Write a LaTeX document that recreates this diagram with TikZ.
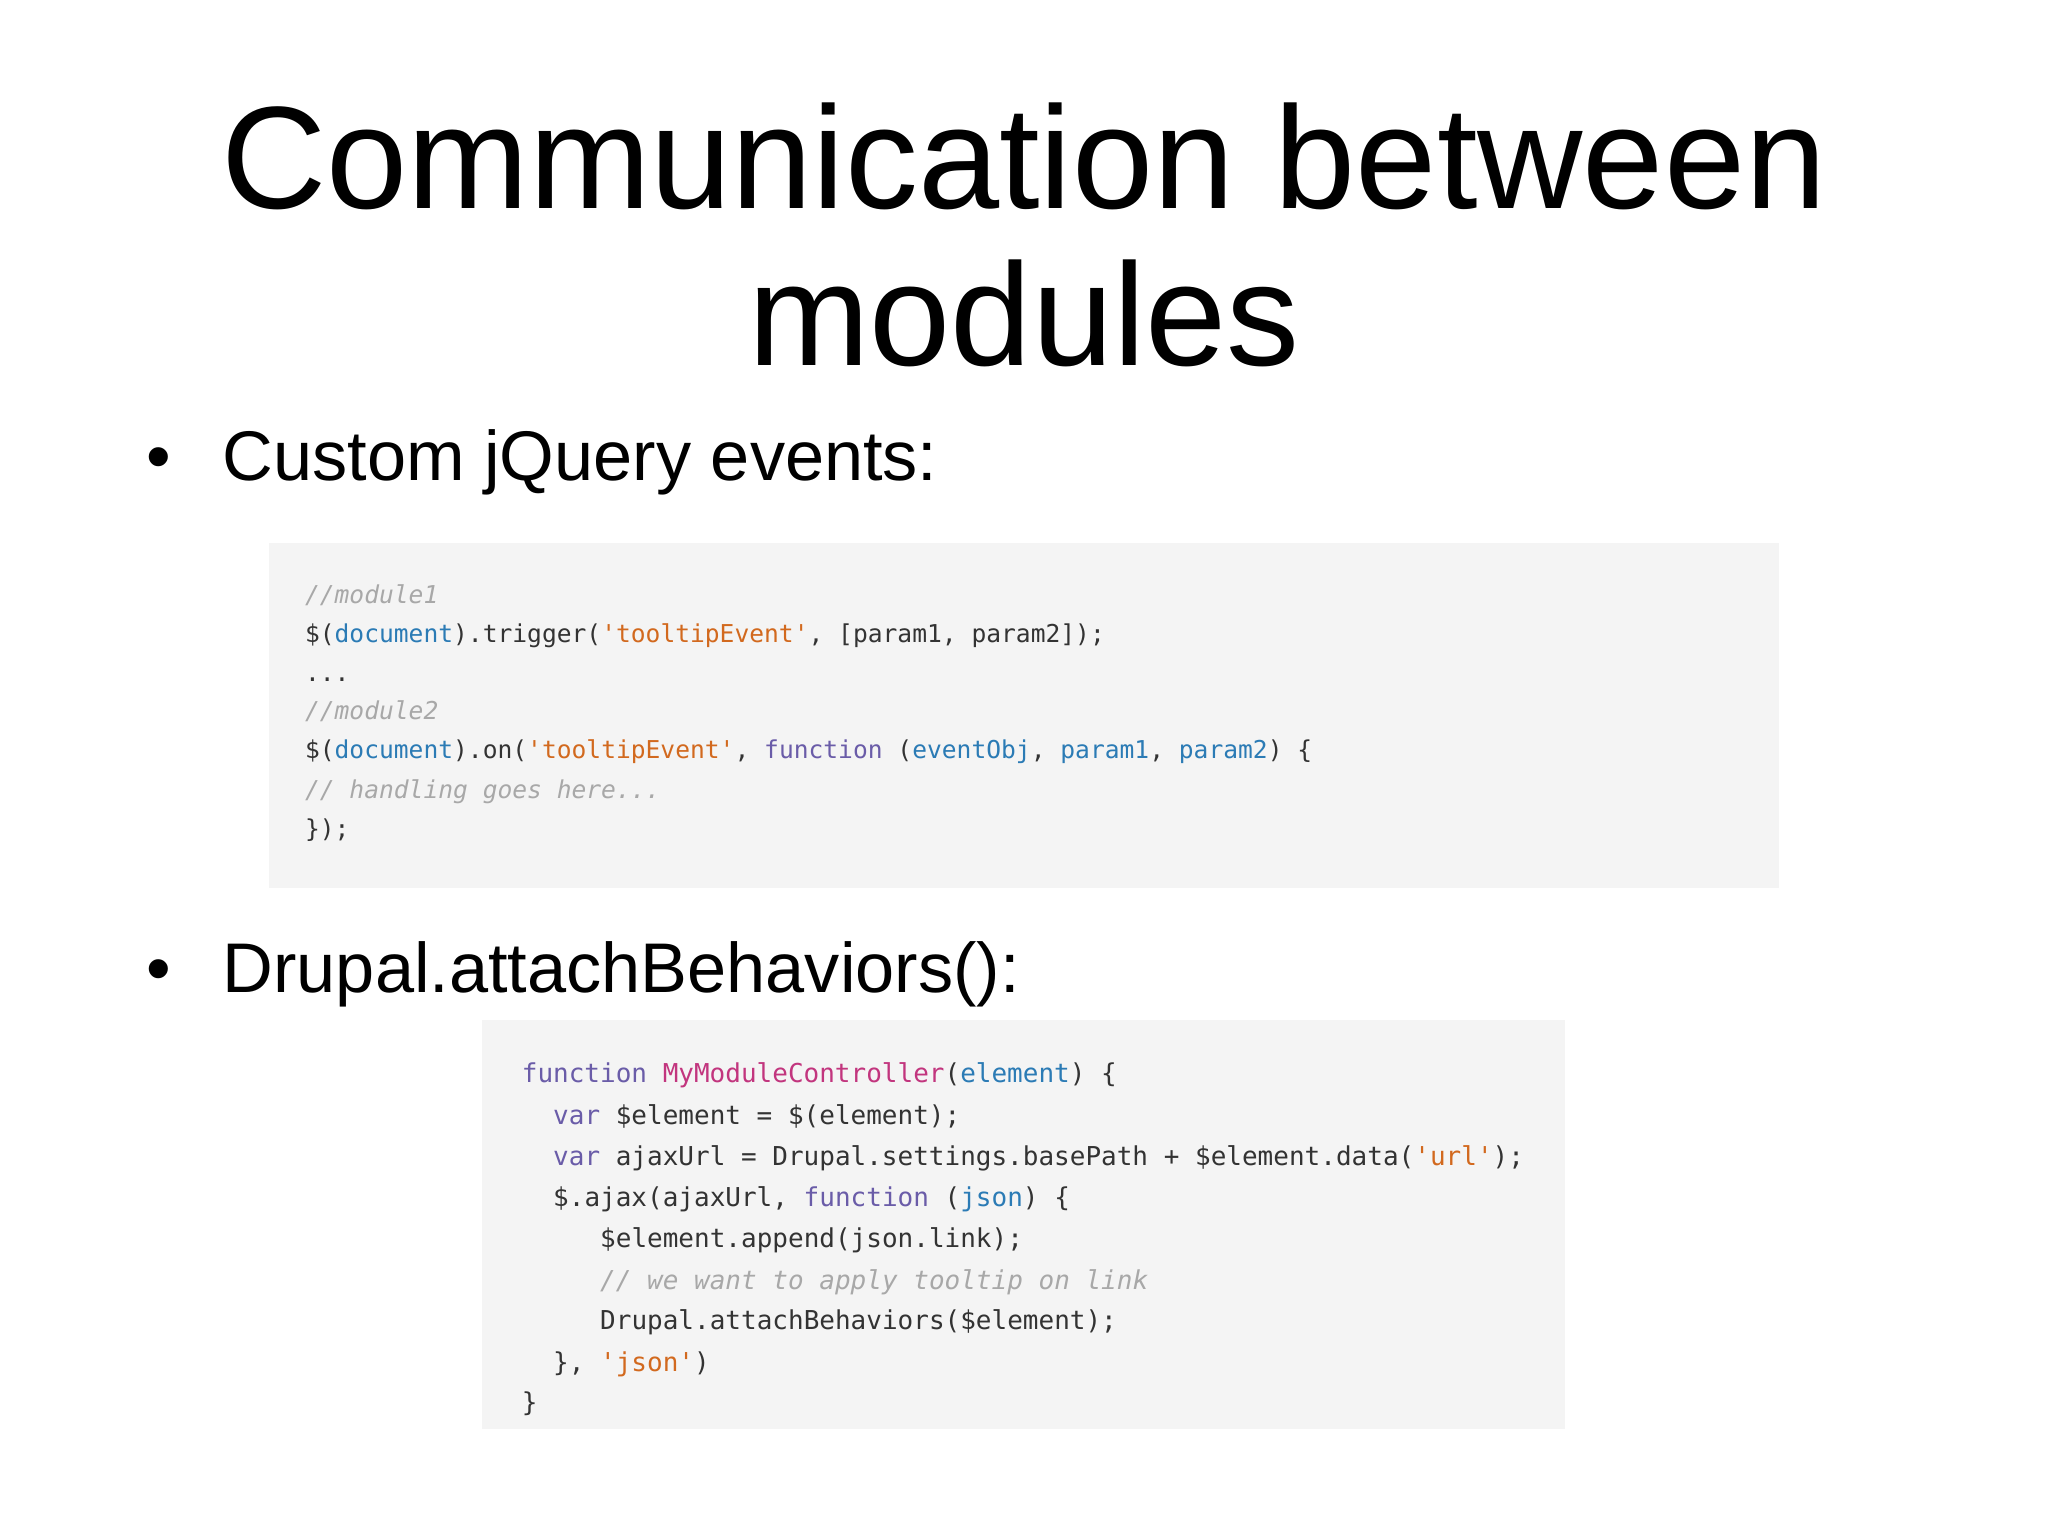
\documentclass[tikz,border=0pt]{standalone}
\usepackage{fontspec}
\setmainfont{Liberation Sans}
\setmonofont{DejaVu Sans Mono}
\definecolor{cbg}{HTML}{F4F4F4}
\definecolor{ctx}{HTML}{333333}
\definecolor{ckw}{HTML}{6A5CA8}
\definecolor{cid}{HTML}{2B7BB5}
\definecolor{cst}{HTML}{D2691E}
\definecolor{cfn}{HTML}{C2357E}
\definecolor{ccm}{HTML}{A8A8A8}
\newcommand{\K}[1]{\textcolor{ckw}{#1}}
\newcommand{\I}[1]{\textcolor{cid}{#1}}
\newcommand{\Sq}[1]{\textcolor{cst}{#1}}
\newcommand{\Cm}[1]{\textcolor{ccm}{\itshape #1}}
\begin{document}
\begin{tikzpicture}[x=0.01306cm,y=-0.01306cm,
  code/.style={anchor=base west,inner sep=0pt,text=ctx,font=\ttfamily\fontsize{7}{8}\selectfont},
  codeb/.style={code,font=\ttfamily\fontsize{7.4}{8}\selectfont},
  title/.style={font=\fontsize{41.5}{50}\selectfont,anchor=base,inner sep=0pt},
  bul/.style={font=\fontsize{20}{24}\selectfont,anchor=base west,inner sep=0pt}]
\useasboundingbox[fill=white] (0,0) rectangle (1568,1176);
\node[title] (t1) at (784,160) {Communication between};
\node[title] (t2) at (784,280) {modules};
\node[bul] (b1d) at (112,368) {•};
\node[bul] (b1) at (170,368) {Custom jQuery events:};
\node[bul] (b2d) at (112,760) {•};
\node[bul] (b2) at (170,760) {Drupal.attachBehaviors():};
\fill[cbg] (206,416) rectangle (1362,680);
\node[code] (a1) at (233,462) {\Cm{//module1}};
\node[code] (a2) at (233,492) {\$(\I{document}).trigger(\Sq{'tooltipEvent'}, [param1, param2]);};
\node[code] (a3) at (233,522) {...};
\node[code] (a4) at (233,551) {\Cm{//module2}};
\node[code] (a5) at (233,581) {\$(\I{document}).on(\Sq{'tooltipEvent'}, \K{function} (\I{eventObj}, \I{param1}, \I{param2}) \{};
\node[code] (a6) at (233,611) {\Cm{// handling goes here...}};
\node[code] (a7) at (233,641) {\});};
\fill[cbg] (369,781) rectangle (1198,1094);
\node[codeb] (c1) at (399,829) {\K{function} \textcolor{cfn}{MyModuleController}(\I{element}) \{};
\node[codeb] (c2) at (423,861) {\K{var} \$element = \$(element);};
\node[codeb] (c3) at (423,892) {\K{var} ajaxUrl = Drupal.settings.basePath + \$element.data(\Sq{'url'});};
\node[codeb] (c4) at (423,924) {\$.ajax(ajaxUrl, \K{function} (\I{json}) \{};
\node[codeb] (c5) at (459,955) {\$element.append(json.link);};
\node[codeb] (c6) at (459,987) {\Cm{// we want to apply tooltip on link}};
\node[codeb] (c7) at (459,1018) {Drupal.attachBehaviors(\$element);};
\node[codeb] (c8) at (423,1050) {\}, \Sq{'json'})};
\node[codeb] (c9) at (399,1081) {\}};
\end{tikzpicture}
\end{document}
